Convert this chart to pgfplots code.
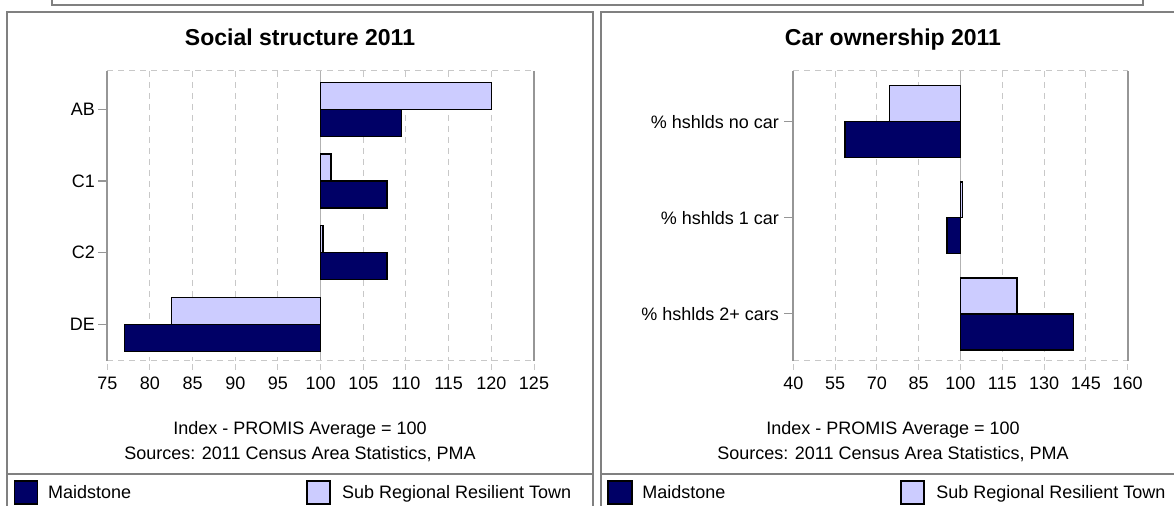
\documentclass[border=0pt]{standalone}
\usepackage{pgfplots}
\pgfplotsset{compat=1.18}
\usepackage{pgfplotstable}
\usepackage{fontspec}
\setmainfont{Liberation Sans}
\definecolor{navy}{RGB}{0,0,102}
\definecolor{lav}{RGB}{204,204,255}
\definecolor{framec}{RGB}{128,128,128}
\definecolor{gridc}{RGB}{200,200,200}
\definecolor{axc}{RGB}{150,150,150}

\pgfplotstableread{
idx maid sub
0 109.5 120.0
1 107.8 101.2
2 107.8 100.3
3 77.0 82.5
}\leftdata
\pgfplotstableread{
idx maid sub
0 58.5 74.5
1 95.2 100.8
2 140.6 120.2
}\rightdata

\pgfplotsset{
  panel/.style={
    scale only axis, height=145pt,
    y dir=reverse,
    axis line style={draw=none},
    xmajorgrids, ymajorgrids=false,
    major grid style={gridc, line width=0.5pt, dash pattern=on 3pt off 2.5pt},
    tick align=outside,
    major tick length=4.5pt,
    x tick style={gridc, line width=0.5pt, dash pattern=on 3pt off 2.5pt},
    y tick style={axc, line width=0.6pt},
    tick pos=left,
    tick label style={font=\fontsize{9}{10}\selectfont},
    xticklabel style={anchor=north, inner sep=0pt, yshift=-3.5pt},
    yticklabel style={anchor=east, inner sep=0pt, xshift=-1.5pt},
    clip=false,
  }
}

\begin{document}
\begin{tikzpicture}[x=0.5pt,y=0.5pt]
\useasboundingbox (0,0) rectangle (1174,506);
% frames
\draw[framec, line width=1pt] (52,520) -- (52,501) -- (1143,501) -- (1143,520);
\draw[framec, line width=1pt] (7,-20) -- (7,494) -- (593,494) -- (593,-20);
\draw[framec, line width=1pt] (601,-20) -- (601,494) -- (1190,494);
\draw[framec, line width=1pt] (7,32) -- (593,32);
\draw[framec, line width=1pt] (601,32) -- (1190,32);

% left axis
\begin{axis}[panel, at={(53.65pt,72.5pt)}, anchor=south west, width=213.35pt,
  xmin=-25, xmax=25, ymin=-0.534, ymax=3.51,
  xtick={-25,-20,-15,-10,-5,0,5,10,15,20,25},
  xticklabels={75,80,85,90,95,100,105,110,115,120,125},
  ytick={0,1,2,3}, yticklabels={AB,C1,C2,DE}]
\draw[gridc!70!gray, line width=0.5pt] (axis cs:0,-0.534) -- (axis cs:0,3.51);
\addplot[xbar, bar width=0.377, bar shift=-0.1885, fill=lav, draw=black, line width=0.75pt]
  table[x expr=\thisrow{sub}-100, y=idx] {\leftdata};
\addplot[xbar, bar width=0.377, bar shift=0.1885, fill=navy, draw=black, line width=0.75pt]
  table[x expr=\thisrow{maid}-100, y=idx] {\leftdata};
\draw[gridc, line width=0.5pt, dash pattern=on 3pt off 2.5pt] (rel axis cs:0,0) -- (rel axis cs:1,0);
\draw[gridc, line width=0.5pt, dash pattern=on 3pt off 2.5pt] (rel axis cs:0,1) -- (rel axis cs:1,1);
\draw[axc, line width=1pt] (rel axis cs:0,0) -- (rel axis cs:0,1);
\draw[axc, line width=1pt] (rel axis cs:1,0) -- (rel axis cs:1,1);
\end{axis}

% right axis
\begin{axis}[panel, at={(396.65pt,72.5pt)}, anchor=south west, width=167.2pt,
  xmin=-60, xmax=60, ymin=-0.526, ymax=2.49,
  xtick={-60,-45,-30,-15,0,15,30,45,60},
  xticklabels={40,55,70,85,100,115,130,145,160},
  ytick={0,1,2}, yticklabels={\% hshlds no car,\% hshlds 1 car,\% hshlds 2+ cars},
  yticklabel style={xshift=-1pt}]
\draw[gridc!70!gray, line width=0.5pt] (axis cs:0,-0.526) -- (axis cs:0,2.49);
\addplot[xbar, bar width=0.374, bar shift=-0.187, fill=lav, draw=black, line width=0.75pt]
  table[x expr=\thisrow{sub}-100, y=idx] {\rightdata};
\addplot[xbar, bar width=0.374, bar shift=0.187, fill=navy, draw=black, line width=0.75pt]
  table[x expr=\thisrow{maid}-100, y=idx] {\rightdata};
\draw[gridc, line width=0.5pt, dash pattern=on 3pt off 2.5pt] (rel axis cs:0,0) -- (rel axis cs:1,0);
\draw[gridc, line width=0.5pt, dash pattern=on 3pt off 2.5pt] (rel axis cs:0,1) -- (rel axis cs:1,1);
\draw[axc, line width=1pt] (rel axis cs:0,0) -- (rel axis cs:0,1);
\draw[axc, line width=1pt] (rel axis cs:1,0) -- (rel axis cs:1,1);
\end{axis}

% titles and notes
\node[anchor=base, font=\fontsize{11.5}{13}\selectfont\bfseries] at (300,460.8) {Social structure 2011};
\node[anchor=base, font=\fontsize{11.5}{13}\selectfont\bfseries] at (893,460.8) {Car ownership 2011};
\node[anchor=base, font=\fontsize{9}{10}\selectfont] at (300,71.5) {Index - PROMIS Average = 100};
\node[anchor=base, font=\fontsize{9}{10}\selectfont] at (300,46.5) {Sources: 2011 Census Area Statistics, PMA};
\node[anchor=base, font=\fontsize{9}{10}\selectfont] at (893,71.5) {Index - PROMIS Average = 100};
\node[anchor=base, font=\fontsize{9}{10}\selectfont] at (893,46.5) {Sources: 2011 Census Area Statistics, PMA};

% legends
\draw[black, fill=navy, line width=0.6pt] (14.5,2) rectangle (37.5,25);
\node[anchor=base west, inner sep=0pt, font=\fontsize{9}{10}\selectfont] at (47.8,7) {Maidstone};
\draw[black, fill=lav, line width=0.6pt] (307,2) rectangle (330,25);
\node[anchor=base west, inner sep=0pt, font=\fontsize{9}{10}\selectfont] at (341.7,7) {Sub Regional Resilient Town};
\draw[black, fill=navy, line width=0.6pt] (608,2) rectangle (632,25);
\node[anchor=base west, inner sep=0pt, font=\fontsize{9}{10}\selectfont] at (642,7) {Maidstone};
\draw[black, fill=lav, line width=0.6pt] (901,2) rectangle (924,25);
\node[anchor=base west, inner sep=0pt, font=\fontsize{9}{10}\selectfont] at (936,7) {Sub Regional Resilient Town};
\end{tikzpicture}
\end{document}
